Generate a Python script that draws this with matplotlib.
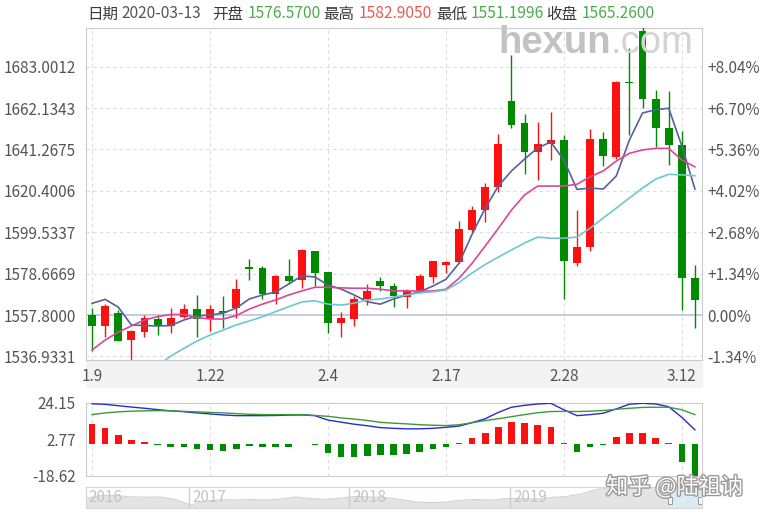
import numpy as np
import matplotlib
matplotlib.use('Agg')
import matplotlib.pyplot as plt
import matplotlib.patheffects as pe
from matplotlib.patches import Rectangle

plt.rcParams['font.family'] = ['Noto Sans CJK SC', 'DejaVu Sans']

# trading days shown (2020)
dates = ['1.9', '1.10', '1.13', '1.14', '1.15', '1.16', '1.17', '1.20', '1.21', '1.22',
         '1.23', '1.24', '1.27', '1.28', '1.29', '1.30', '1.31',
         '2.3', '2.4', '2.5', '2.6', '2.7', '2.10', '2.11', '2.12', '2.13', '2.14',
         '2.17', '2.18', '2.19', '2.20', '2.21', '2.24', '2.25', '2.26', '2.27', '2.28',
         '3.2', '3.3', '3.4', '3.5', '3.6', '3.9', '3.10', '3.11', '3.12', '3.13']
label_dates = ['1.9', '1.22', '2.4', '2.17', '2.28', '3.12']

opens = [1557.8, 1552.3, 1558.9, 1545.3, 1549.4, 1555.8, 1552.1, 1556.6, 1560.8, 1555.6,
         1559.8, 1561.2, 1581.8, 1581.5, 1568.4, 1577.3, 1575.4, 1589.9, 1579.3, 1553.8,
         1555.6, 1565.9, 1575.1, 1572.3, 1567.0, 1570.0, 1577.1, 1583.2, 1584.4, 1600.6,
         1610.7, 1622.1, 1665.7, 1654.7, 1640.1, 1643.9, 1646.1, 1583.9, 1592.2, 1646.5,
         1637.2, 1675.2, 1700.7, 1666.8, 1652.3, 1643.6, 1576.57]
highs = [1561.3, 1563.3, 1560.3, 1550.4, 1557.8, 1557.8, 1561.2, 1563.3, 1567.9, 1562.8,
         1567.5, 1576.0, 1586.0, 1582.6, 1578.0, 1586.0, 1591.0, 1590.2, 1579.6, 1559.5,
         1567.4, 1573.4, 1576.8, 1573.9, 1570.9, 1578.5, 1585.2, 1585.2, 1605.3, 1612.9,
         1624.2, 1649.2, 1688.8, 1659.0, 1655.3, 1660.3, 1648.7, 1610.9, 1651.8, 1649.9,
         1675.5, 1692.2, 1704.0, 1671.3, 1670.8, 1650.4, 1582.905]
lows = [1539.8, 1546.7, 1544.6, 1534.0, 1546.6, 1547.7, 1548.6, 1556.1, 1546.7, 1549.9,
        1551.1, 1556.1, 1575.5, 1565.9, 1563.3, 1573.4, 1571.3, 1572.3, 1548.6, 1546.9,
        1552.4, 1562.8, 1570.0, 1562.0, 1561.6, 1568.7, 1573.8, 1578.8, 1583.9, 1599.8,
        1604.5, 1619.6, 1652.3, 1628.7, 1625.8, 1635.7, 1565.9, 1582.6, 1589.9, 1633.1,
        1636.4, 1648.5, 1662.0, 1642.6, 1633.6, 1560.3, 1551.1996]
closes = [1552.3, 1562.3, 1544.8, 1549.7, 1556.1, 1552.1, 1556.1, 1560.8, 1555.8, 1560.8,
          1559.0, 1570.9, 1581.0, 1568.4, 1577.3, 1575.1, 1590.6, 1579.0, 1553.6, 1556.3,
          1565.7, 1570.0, 1572.3, 1567.5, 1570.0, 1577.3, 1584.9, 1584.7, 1601.1, 1610.7,
          1622.5, 1643.9, 1653.6, 1640.1, 1643.9, 1646.1, 1584.9, 1592.2, 1646.5, 1638.1,
          1675.0, 1674.5, 1666.8, 1652.3, 1643.6, 1576.4, 1565.26]

ma5 = [1563.7, 1565.7, 1561.8, 1552.8, 1552.5, 1552.3, 1552.5, 1555.3, 1557.3, 1557.8,
       1558.8, 1561.3, 1565.9, 1567.9, 1569.4, 1573.4, 1577.5, 1577.0, 1572.9, 1570.9,
       1567.9, 1564.5, 1563.3, 1565.9, 1567.9, 1569.5, 1572.4, 1575.8, 1583.9, 1598.6,
       1611.7, 1622.8, 1630.4, 1636.4, 1642.0, 1645.0, 1635.9, 1621.1, 1621.8, 1621.3,
       1627.9, 1646.0, 1659.6, 1661.3, 1662.0, 1643.0, 1621.3]
ma10 = [1540.2, 1545.2, 1549.2, 1552.3, 1555.3, 1557.0, 1558.1, 1558.1, 1556.5, 1555.8,
        1555.8, 1557.5, 1560.8, 1563.3, 1565.4, 1567.9, 1569.9, 1571.8, 1571.8, 1571.5,
        1571.3, 1571.3, 1570.8, 1570.0, 1570.0, 1569.9, 1569.9, 1570.8, 1576.3, 1583.9,
        1592.6, 1601.5, 1610.7, 1618.3, 1622.8, 1622.8, 1622.8, 1623.7, 1627.5, 1630.4,
        1635.4, 1639.3, 1641.0, 1641.8, 1641.8, 1635.9, 1632.5]
ma20 = [1516.0, 1519.0, 1522.0, 1525.0, 1528.6, 1532.1, 1537.1, 1541.0, 1544.7, 1547.7,
        1550.2, 1552.8, 1554.8, 1556.9, 1559.5, 1562.0, 1564.4, 1565.0, 1563.3, 1562.8,
        1563.8, 1565.4, 1565.9, 1566.9, 1567.9, 1569.0, 1569.5, 1570.4, 1574.2, 1579.0,
        1583.3, 1587.0, 1590.6, 1594.1, 1597.1, 1596.5, 1596.5, 1597.1, 1601.6, 1606.7,
        1611.7, 1616.8, 1621.8, 1626.3, 1628.7, 1628.4, 1628.0]

price_ticks = [1536.9331, 1557.8000, 1578.6669, 1599.5337, 1620.4006, 1641.2675, 1662.1343, 1683.0012]
pct_labels = ['-1.34%', '0.00%', '+1.34%', '+2.68%', '+4.02%', '+5.36%', '+6.70%', '+8.04%']
base_price = 1557.8

macd_hist = [11.8, 9.4, 5.4, 2.5, 1.1, -0.6, -1.9, -1.9, -2.8, -3.2,
             -3.8, -2.8, -0.9, -1.5, -1.5, -1.5, 0.0, -0.7, -5.1, -7.3,
             -7.3, -7.0, -6.1, -6.1, -5.7, -4.8, -2.8, -1.5, 0.8, 3.4,
             6.3, 10.2, 13.1, 12.4, 11.2, 9.8, 0.7, -4.8, -1.5, -0.7,
             4.0, 6.5, 6.3, 3.6, 0.7, -10.6, -18.4]
macd_dif = [23.5, 23.2, 22.4, 21.6, 20.9, 20.1, 19.4, 18.9, 18.2, 17.6,
            17.0, 16.6, 16.6, 16.6, 16.7, 16.9, 17.0, 16.6, 14.0, 12.8,
            11.6, 10.7, 9.6, 9.2, 8.9, 8.9, 9.2, 9.8, 10.5, 12.5,
            14.8, 18.5, 21.5, 22.6, 23.4, 23.8, 20.0, 16.6, 17.2, 18.0,
            20.5, 23.3, 23.8, 23.4, 21.8, 15.6, 8.3]
macd_dea = [17.2, 18.2, 18.8, 19.2, 19.4, 19.5, 19.4, 19.1, 18.8, 18.5,
            18.2, 17.8, 17.4, 17.2, 17.2, 17.2, 17.2, 16.7, 16.2, 15.3,
            14.6, 13.8, 12.7, 12.2, 11.8, 11.3, 11.0, 10.8, 11.3, 12.5,
            13.7, 14.8, 16.0, 17.2, 18.3, 19.0, 19.1, 19.0, 19.2, 19.6,
            20.3, 20.9, 21.4, 21.5, 21.5, 20.0, 17.2]
macd_ticks = [-18.62, 2.77, 24.15]

# navigator overview (2016 - 2020)
nav_values = [9, 12, 12, 10.6, 10.3, 10.5, 8, 2.5, 6.5, 7.8, 7.5, 8, 7.5, 8.5,
              10.5, 9, 8.2, 9.5, 11, 10.5, 10, 7.8, 5.6, 4.8, 5.5, 7.3, 8, 7.3,
              9, 9, 8.5, 10, 11, 13.6, 18, 20, 20.6, 20, 20.6, 21, 21, 20.6]
years = ['2016', '2017', '2018', '2019']
year_pos = [0.0, 6.9, 17.55, 28.27]

header = [('日期', '#3a3a3a'), ('2020-03-13', '#555555'),
          ('开盘', '#3a3a3a'), ('1576.5700', '#4caa4c'),
          ('最高', '#3a3a3a'), ('1582.9050', '#e85a55'),
          ('最低', '#3a3a3a'), ('1551.1996', '#4caa4c'),
          ('收盘', '#3a3a3a'), ('1565.2600', '#4caa4c')]
header_x = [87, 121.5, 212, 248, 323, 359, 436.5, 470.5, 546.5, 581.5]

RED = '#ff1010'
GREEN = '#008a00'
GRID = '#dddddd'
W, H = 768, 518


def main():
    fig = plt.figure(figsize=(7.68, 5.18), dpi=100)
    x = np.arange(len(dates))
    left, width = 85.5 / W, 616 / W

    # ---- main candlestick panel ----
    ax = fig.add_axes([left, 1 - 359.5 / H, width, 331.8 / H])
    ax.set_xlim(-0.5, len(dates) - 0.5)
    ax.set_ylim(1535.4, 1702.6)
    o = np.array(opens)
    c = np.array(closes)
    up = c >= o
    cols = np.where(up, RED, GREEN)
    ax.vlines(x, lows, highs, colors=cols, lw=1.0, zorder=3)
    ax.bar(x, c - o, bottom=o, width=0.6, color=cols, zorder=4)
    ax.plot(x, ma5, color='#56609c', lw=1.2, zorder=5)
    ax.plot(x, ma10, color='#d9479b', lw=1.2, zorder=5)
    ax.plot(x, ma20, color='#6ec6cf', lw=1.2, zorder=5)
    ax.axhline(base_price, color='#c6cce0', lw=1.4, zorder=2)

    tick_idx = [dates.index(d) for d in label_dates]
    ax.set_xticks(tick_idx)
    ax.set_xticklabels(label_dates)
    ax.set_yticks(price_ticks)
    ax.set_yticklabels(['%.4f' % p for p in price_ticks])
    ax.grid(True, color=GRID, ls=(0, (3, 3)), lw=0.8, zorder=1)
    ax.tick_params(length=0, labelsize=11, colors='#555555')
    ax.tick_params(axis='y', pad=7)
    ax.tick_params(axis='x', pad=6)
    for s in ax.spines.values():
        s.set_color('#cccccc')

    ax2 = ax.twinx()
    ax2.set_ylim(ax.get_ylim())
    ax2.set_yticks(price_ticks)
    ax2.set_yticklabels(pct_labels)
    ax2.tick_params(length=0, labelsize=11, colors='#555555', pad=4)
    for s in ax2.spines.values():
        s.set_visible(False)

    fig.add_artist(Rectangle((left, 1 - 387 / H), width, 27 / H, transform=fig.transFigure,
                             color='#f3f3f3', zorder=0))

    # ---- MACD panel ----
    axm = fig.add_axes([left, 1 - 476 / H, width, 73.3 / H])
    axm.set_xlim(-0.5, len(dates) - 0.5)
    axm.set_ylim(-18.62, 24.15)
    h = np.array(macd_hist)
    axm.bar(x, h, width=0.5, color=np.where(h >= 0, RED, GREEN), zorder=3)
    axm.plot(x, macd_dif, color='#2a2ad0', lw=1.0, zorder=4)
    axm.plot(x, macd_dea, color='#3a9a3a', lw=1.0, zorder=4)
    axm.set_xticks(tick_idx)
    axm.set_xticklabels([])
    axm.set_yticks(macd_ticks)
    axm.set_yticklabels(['%.2f' % v for v in macd_ticks])
    axm.grid(True, axis='x', color=GRID, ls=(0, (3, 3)), lw=0.8)
    axm.tick_params(length=0, labelsize=11, colors='#555555', pad=7)
    for s in axm.spines.values():
        s.set_color('#cccccc')

    # ---- navigator ----
    axn = fig.add_axes([left, 1 - 507.5 / H, width, 20.8 / H])
    nx = np.arange(len(nav_values))
    axn.set_xlim(0, len(nav_values) - 1)
    axn.set_ylim(0, 20.8)
    axn.fill_between(nx, nav_values, color='#e4e4e4', lw=0)
    axn.plot(nx, nav_values, color='#d2d2d2', lw=0.8)
    for yr, px in zip(years, year_pos):
        if px > 0:
            axn.axvline(px, color='#cfcfcf', lw=1)
        axn.text(px + 0.2, 18, yr, color='#c4c4c4', fontsize=11, va='top', ha='left')
    axn.axvspan(38.9, 40.95, color='#d9eef8', alpha=0.8, lw=0)
    for hx in (38.9, 40.95):
        axn.add_patch(Rectangle((hx - 0.15, 3.5), 0.3, 7, facecolor='#f6f6f6',
                                edgecolor='#999999', lw=0.7, zorder=5))
    axn.set_xticks([])
    axn.set_yticks([])
    for s in axn.spines.values():
        s.set_color('#d6d6d6')

    # ---- header ----
    for (txt, col), px in zip(header, header_x):
        fig.text(px / W, 1 - 14 / H, txt, color=col, fontsize=11.2, va='center', ha='left')

    # ---- watermarks ----
    fig.text(498 / W, 1 - 43 / H, 'hexun', color='#c2c2c2', fontsize=27.5, fontweight='bold',
             family=['Liberation Sans', 'DejaVu Sans'], va='center', ha='left', zorder=10)
    fig.text(610 / W, 1 - 43 / H, '.com', color='#d4d4d4', fontsize=27.5,
             family=['Liberation Sans', 'DejaVu Sans'], va='center', ha='left', zorder=10)
    fig.text(606 / W, 1 - 487 / H, '知乎 @陆祖讷', color='white', fontsize=16,
             va='center', ha='left', zorder=10,
             path_effects=[pe.withStroke(linewidth=2, foreground='#9a9a9a')])

    fig.savefig('out.png', dpi=100)


if __name__ == "__main__":
    main()
